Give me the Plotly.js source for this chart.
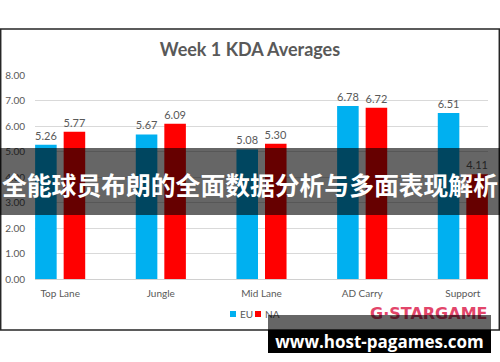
<!DOCTYPE html>
<html>
<head>
<meta charset="utf-8">
<script src="https://cdn.plot.ly/plotly-3.0.1.min.js"></script>
<style>html,body{margin:0;padding:0;background:#fff;}#chart{width:500px;height:362px;}</style>
</head>
<body>
<div id="chart"></div>
<script>
var categories = ['Top Lane', 'Jungle', 'Mid Lane', 'AD Carry', 'Support'];
var euValues = [5.26, 5.67, 5.08, 6.78, 6.51];
var naValues = [5.77, 6.09, 5.30, 6.72, 4.11];
var seriesNames = ['EU', 'NA'];
var yTicks = [0, 1, 2, 3, 4, 5, 6, 7, 8];

var W = 500, H = 362;
var L = 35, R = 488, T = 75, B = 279;
function px(x) { return (x - L) / (R - L); }
function py(y) { return (B - y) / (B - T); }

var grey = '#595959';
var font = 'Lato, "Open Sans", sans-serif';

var traces = [
  {type: 'bar', name: seriesNames[0], x: categories, y: euValues,
   marker: {color: '#00b0f0'}, texttemplate: '%{y:.2f}', textposition: 'outside',
   constraintext: 'none', cliponaxis: false,
   textfont: {color: grey, size: 11, family: font}},
  {type: 'bar', name: seriesNames[1], x: categories, y: naValues,
   marker: {color: '#ff0000'}, texttemplate: '%{y:.2f}', textposition: 'outside',
   constraintext: 'none', cliponaxis: false,
   textfont: {color: grey, size: 11, family: font}}
];

var layout = {
  width: W, height: H,
  margin: {l: L, r: W - R, t: T, b: H - B, pad: 0},
  paper_bgcolor: '#ffffff', plot_bgcolor: '#ffffff',
  showlegend: false,
  barmode: 'group', bargap: 0.433, bargroupgap: 0.245,
  font: {family: font, color: grey, size: 10},
  title: {text: '<b>Week 1 KDA Averages</b>', x: 0.5, xanchor: 'center',
          y: 1 - 50 / H, yanchor: 'middle', font: {size: 18, color: grey, family: font}},
  xaxis: {type: 'category', range: [-0.25, 4.25], showgrid: false, showline: true,
          linecolor: '#d0d0d0', linewidth: 1, ticks: '', ticklabelstandoff: 5,
          tickfont: {size: 10, color: grey, family: font}, fixedrange: true},
  yaxis: {range: [0, 8], tickvals: yTicks, tickformat: '.2f', showgrid: true,
          gridcolor: '#d9d9d9', zeroline: false, showline: false, ticks: '',
          ticklabelstandoff: 9, tickfont: {size: 10, color: grey, family: font}, fixedrange: true},
  shapes: [
    {type: 'rect', xref: 'paper', yref: 'paper', x0: px(0.7), x1: px(499.3), y0: py(330), y1: py(29),
     line: {color: '#262626', width: 1.5}, fillcolor: 'rgba(0,0,0,0)', layer: 'above'},
    {type: 'rect', xref: 'paper', yref: 'paper', x0: px(230), x1: px(236), y0: py(317), y1: py(311),
     line: {width: 0}, fillcolor: '#00b0f0', layer: 'above'},
    {type: 'rect', xref: 'paper', yref: 'paper', x0: px(255), x1: px(261), y0: py(317), y1: py(311),
     line: {width: 0}, fillcolor: '#ff0000', layer: 'above'},
    {type: 'rect', xref: 'paper', yref: 'paper', x0: px(-2), x1: px(502), y0: py(215), y1: py(148),
     line: {width: 0}, fillcolor: 'rgba(0,0,0,0.6)', layer: 'above'}
  ],
  annotations: [
    {xref: 'paper', yref: 'paper', x: px(237.5), y: py(314), xanchor: 'left', yanchor: 'middle',
     text: seriesNames[0], showarrow: false, font: {size: 10, color: grey, family: font}},
    {xref: 'paper', yref: 'paper', x: px(262.5), y: py(314), xanchor: 'left', yanchor: 'middle',
     text: seriesNames[1], showarrow: false, font: {size: 10, color: grey, family: font}},
    {xref: 'paper', yref: 'paper', x: px(250), y: py(183.5), xanchor: 'center', yanchor: 'middle',
     text: '<b>全能球员布朗的全面数据分析与多面表现解析</b>', showarrow: false,
     font: {size: 24.8, color: '#ffffff', family: '"Noto Sans CJK SC", sans-serif'}},
    {xref: 'paper', yref: 'paper', x: px(428), y: py(313.5), xanchor: 'center', yanchor: 'middle',
     text: '<b>G·STARGAME</b>', showarrow: false,
     font: {size: 16, color: '#e2456a', family: '"DejaVu Sans", sans-serif'}},
    {xref: 'paper', yref: 'paper', x: px(268), y: py(315), xanchor: 'left', yanchor: 'top',
     text: ' ', showarrow: false, width: 223, height: 15, borderpad: 0, borderwidth: 0,
     bgcolor: 'rgba(0,0,0,0.6)'},
    {xref: 'paper', yref: 'paper', x: px(268), y: py(330), xanchor: 'left', yanchor: 'top',
     text: '<b>www.host-pagames.com</b>', showarrow: false, width: 223, height: 23,
     borderpad: 0, borderwidth: 0, bgcolor: '#000000', align: 'center',
     font: {size: 17, color: '#ffffff', family: '"Open Sans", sans-serif'}}
  ]
};

Plotly.newPlot('chart', traces, layout, {displayModeBar: false, staticPlot: true});
</script>
</body>
</html>
